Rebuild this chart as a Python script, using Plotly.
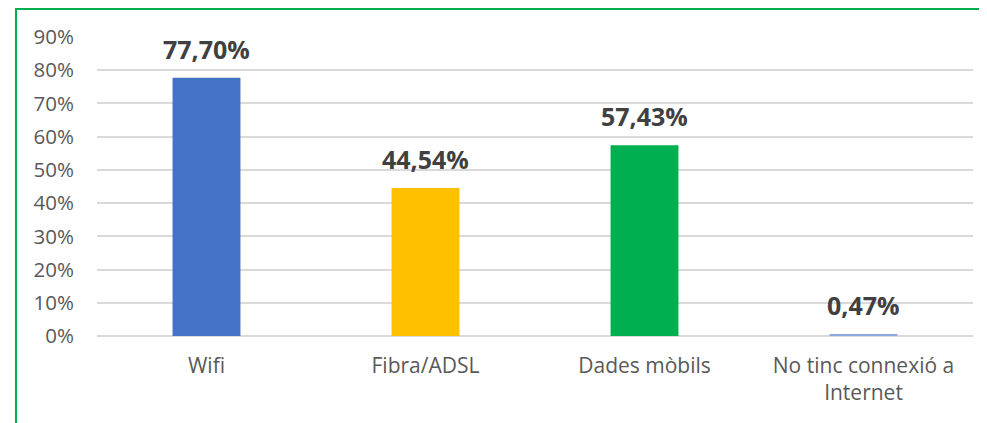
import plotly.graph_objects as go

categories = ["Wifi", "Fibra/ADSL", "Dades mòbils", "No tinc connexió a<br>Internet"]
values = [77.70, 44.54, 57.43, 0.47]
labels = ["77,70%", "44,54%", "57,43%", "0,47%"]
colors = ["#4472C4", "#FFC000", "#00B050", "#8FAADC"]
tick_vals = [0, 10, 20, 30, 40, 50, 60, 70, 80, 90]
tick_text = ["0%", "10%", "20%", "30%", "40%", "50%", "60%", "70%", "80%", "90%"]

# page has an 8px body margin; figure coords = page coords - 8
W, H = 979, 415
l, r, t, b = 89, 14, 29, 87
pw, ph = W - l - r, H - t - b

def px(x):
    return (x - l) / pw

def py(y):
    return (H - b - y) / ph

fig = go.Figure(go.Bar(
    x=categories, y=values, marker=dict(color=colors, line=dict(width=0)),
    hoverinfo="x+y",
))

for c, v, s in zip(categories, values, labels):
    fig.add_annotation(x=c, y=v, text=s, showarrow=False, yanchor="bottom",
                       yshift=10, font=dict(family="Open Sans", size=25,
                                            color="#404040", weight="bold"))

fig.update_layout(
    width=W, height=H, margin=dict(l=l, r=r, t=t, b=b),
    paper_bgcolor="white", plot_bgcolor="white",
    bargap=0.69, showlegend=False,
    font=dict(family="Open Sans", size=18, color="#595959"),
    yaxis=dict(range=[0, 90], tickvals=tick_vals, ticktext=tick_text,
               gridcolor="#D9D9D9", gridwidth=1.5, zeroline=True,
               zerolinecolor="#D9D9D9", zerolinewidth=1.5,
               ticks="", ticklabelstandoff=22, showline=False,
               tickfont=dict(size=20.5)),
    xaxis=dict(showline=False, ticks="", ticklabelstandoff=15,
               tickfont=dict(size=21)),
    shapes=[
        dict(type="line", xref="paper", yref="paper", x0=px(8), x1=px(8),
             y0=py(0), y1=py(H), line=dict(color="#00B050", width=2)),
        dict(type="line", xref="paper", yref="paper", x0=px(8), x1=px(W),
             y0=py(1), y1=py(1), line=dict(color="#00B050", width=2)),
    ],
)
fig.write_html("out.html")
